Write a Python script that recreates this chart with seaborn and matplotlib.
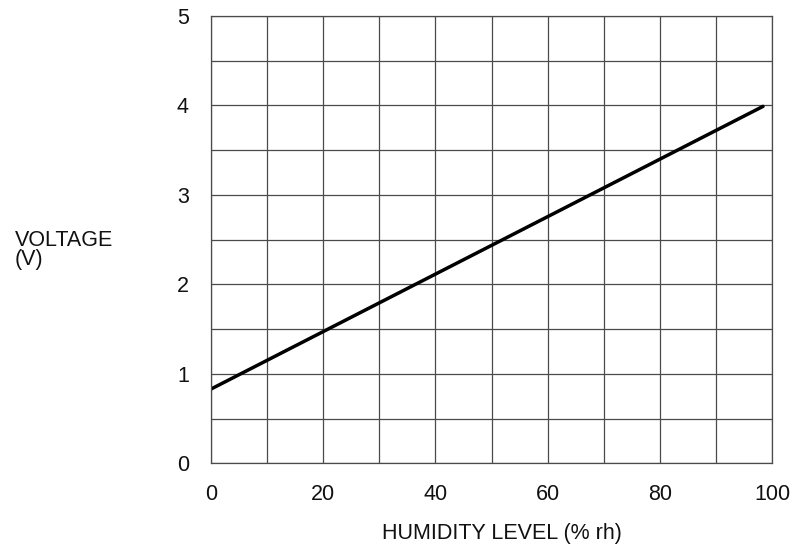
import matplotlib
matplotlib.use("Agg")
import matplotlib.pyplot as plt
import seaborn as sns
import pandas as pd
import numpy as np

humidity = [0.0, 98.4]
voltage = [0.83, 3.99]
x_ticks = [0, 20, 40, 60, 80, 100]
y_ticks = [0, 1, 2, 3, 4, 5]

sns.set_theme(style="white")
plt.rcParams['font.family'] = ['Liberation Sans', 'DejaVu Sans']

fig = plt.figure(figsize=(7.98, 5.58), dpi=100)
ax = fig.add_axes([211/798, 1 - 463.3/558, (772 - 211)/798, (463.3 - 16)/558])

df = pd.DataFrame({"humidity": humidity, "voltage": voltage})
sns.lineplot(data=df, x="humidity", y="voltage", ax=ax, color="black", linewidth=2.5)

ax.set_xlim(0, 100)
ax.set_ylim(0, 5)
ax.set_xticks(x_ticks)
ax.set_xticks(np.arange(0, 101, 10), minor=True)
ax.set_yticks(y_ticks)
ax.set_yticks(np.arange(0, 5.01, 0.5), minor=True)
ax.grid(True, which="both", color="#4a4a4a", linewidth=0.9)
ax.set_axisbelow(True)
for s in ax.spines.values():
    s.set_visible(True)
    s.set_color("#4a4a4a")
    s.set_linewidth(0.9)
ax.tick_params(axis="both", which="both", length=0, labelsize=15.5, colors="#111111")
ax.tick_params(axis="x", pad=15)
ax.tick_params(axis="y", pad=16)
ax.set_xlabel("")
ax.set_ylabel("")

fig.text(502/798, 1 - 533/558, "HUMIDITY LEVEL (% rh)", ha="center", va="center",
         fontsize=15.5, color="#111111")
fig.text(15/798, 1 - 250/558, "VOLTAGE\n(V)", ha="left", va="center",
         fontsize=15.5, color="#111111", linespacing=0.9)

fig.savefig("out.png", dpi=100)
